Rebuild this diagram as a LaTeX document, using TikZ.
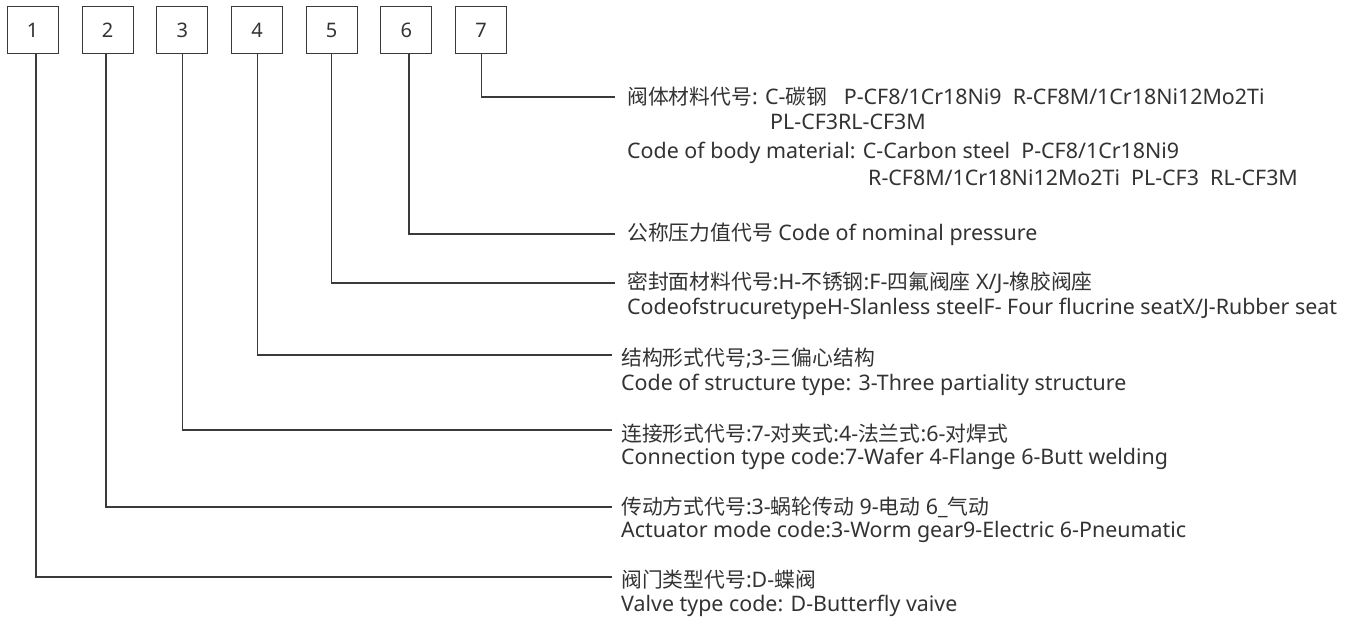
\documentclass[tikz,border=0pt]{standalone}
\usepackage{fontspec}
\setmainfont{Noto Sans}
\newfontfamily\cjk{Noto Sans CJK SC}
\newcommand\zh[1]{{\fontsize{20.8}{24}\cjk #1}}
\definecolor{linec}{HTML}{3A3A3A}
\definecolor{txt}{HTML}{333333}
\begin{document}
\begin{tikzpicture}[x=1pt,y=-1pt,
  numbox/.style={draw=linec, line width=1.3pt, minimum width=51pt, minimum height=46.5pt,
    inner sep=0pt, text=txt, font=\fontsize{20}{20}\selectfont},
  lead/.style={draw=linec, line width=1.3pt},
  lbl/.style={anchor=west, inner sep=0pt, text=txt, font=\fontsize{21.4}{24}\selectfont}]
\useasboundingbox[fill=white] (0,0) rectangle (1364,624);
% number boxes
\node[numbox] (b1) at (32.7,30) {1};
\node[numbox] (b2) at (107.7,30) {2};
\node[numbox] (b3) at (182.3,30) {3};
\node[numbox] (b4) at (257.2,30) {4};
\node[numbox] (b5) at (331.7,30) {5};
\node[numbox] (b6) at (406.3,30) {6};
\node[numbox] (b7) at (481.2,30) {7};
% lead ends
\coordinate (e7) at (615,97);
\coordinate (e6) at (615,234);
\coordinate (e5) at (615,283);
\coordinate (e4) at (612,355);
\coordinate (e3) at (612,430);
\coordinate (e2) at (612,507);
\coordinate (e1) at (612,577);
% leads
\draw[lead] ([xshift=3.3pt]b1.south) |- (e1);
\draw[lead] ([xshift=-1.7pt]b2.south) |- (e2);
\draw[lead] (b3.south) |- (e3);
\draw[lead] (b4.south) |- (e4);
\draw[lead] (b5.south) |- (e5);
\draw[lead] ([xshift=2.7pt]b6.south) |- (e6);
\draw[lead] (b7.south) |- (e7);
% texts
\node[lbl] (t7a) at (627,97) {\zh{阀体材料代号}: C-\zh{碳钢}\ \ \ P-CF8/1Cr18Ni9\ \ R-CF8M/1Cr18Ni12Mo2Ti};
\node[lbl] (t7b) at (770,122) {PL-CF3RL-CF3M};
\node[lbl] (t7c) at (627,153) {Code of body material: C-Carbon steel\ \ P-CF8/1Cr18Ni9};
\node[lbl] (t7d) at (868,178) {R-CF8M/1Cr18Ni12Mo2Ti\ \ PL-CF3\ \ RL-CF3M};
\node[lbl] (t6) at (627,234) {\zh{公称压力值代号} Code of nominal pressure};
\node[lbl] (t5a) at (627,283) {\zh{密封面材料代号}:H-\zh{不锈钢}:F-\zh{四氟阀座} X/J-\zh{橡胶阀座}};
\node[lbl] (t5b) at (627,309) {CodeofstrucuretypeH-Slanless steelF- Four flucrine seatX/J-Rubber seat};
\node[lbl] (t4a) at (621,358) {\zh{结构形式代号};3-\zh{三偏心结构}};
\node[lbl] (t4b) at (621,385) {Code of structure type: 3-Three partiality structure};
\node[lbl] (t3a) at (621,434) {\zh{连接形式代号}:7-\zh{对夹式}:4-\zh{法兰式}:6-\zh{对焊式}};
\node[lbl] (t3b) at (621,459) {Connection type code:7-Wafer 4-Flange 6-Butt welding};
\node[lbl] (t2a) at (621,507) {\zh{传动方式代号}:3-\zh{蜗轮传动} 9-\zh{电动} 6\_\zh{气动}};
\node[lbl] (t2b) at (621,532) {Actuator mode code:3-Worm gear9-Electric 6-Pneumatic};
\node[lbl] (t1a) at (621,580) {\zh{阀门类型代号}:D-\zh{蝶阀}};
\node[lbl] (t1b) at (621,606) {Valve type code: D-Butterfly vaive};
\end{tikzpicture}
\end{document}
